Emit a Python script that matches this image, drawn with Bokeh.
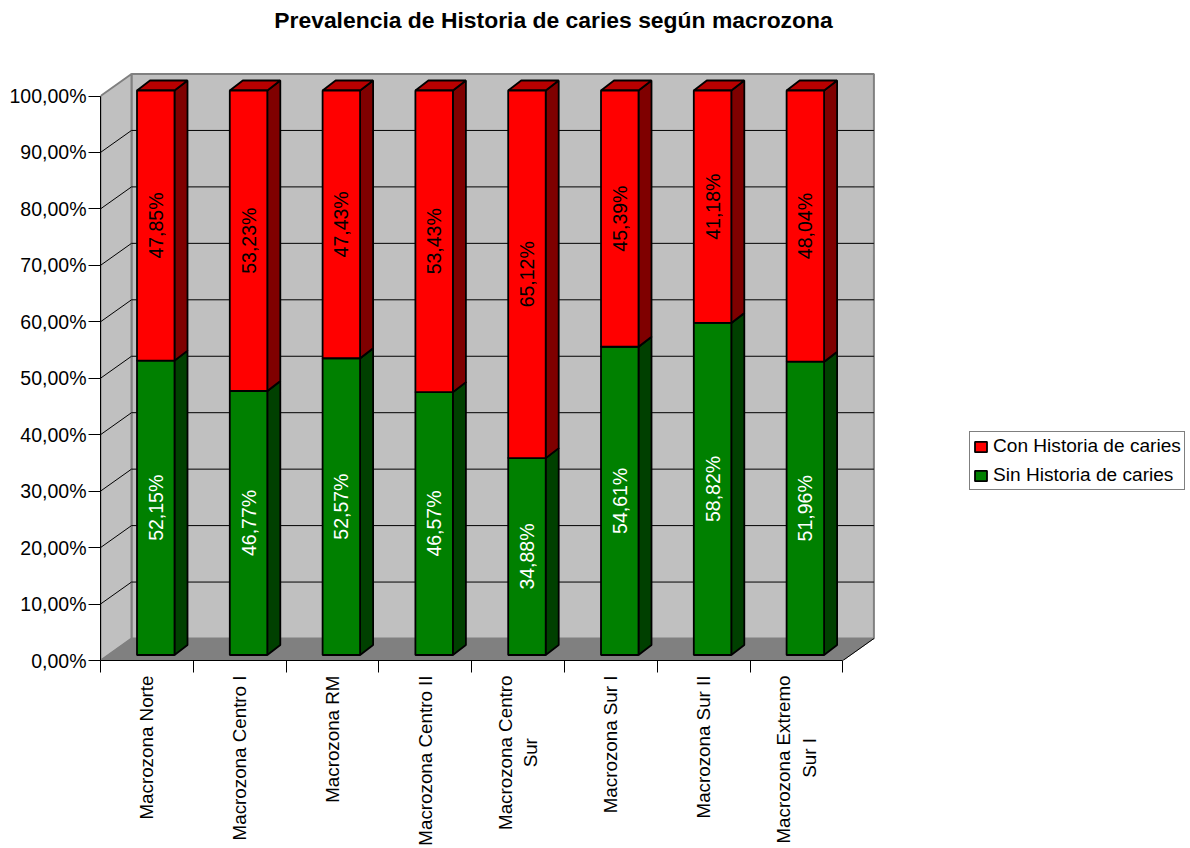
import math
from bokeh.plotting import figure
from bokeh.embed import file_html
from bokeh.resources import INLINE
from bokeh.models import FixedTicker, Range1d, Legend, LegendItem, ColumnDataSource
from bokeh.core.properties import value

NB = "\u00a0" * 12  # keeps the short second line centred under the first
categories = ["Macrozona Norte", "Macrozona Centro I", "Macrozona RM", "Macrozona Centro II",
              "Macrozona Centro\nSur" + NB, "Macrozona Sur I", "Macrozona Sur II",
              "Macrozona Extremo\nSur I" + NB]
sin_hist = [52.15, 46.77, 52.57, 46.57, 34.88, 54.61, 58.82, 51.96]
con_hist = [47.85, 53.23, 47.43, 53.43, 65.12, 45.39, 41.18, 48.04]
y_ticks = [0, 10, 20, 30, 40, 50, 60, 70, 80, 90, 100]
title = "Prevalencia de Historia de caries según macrozona"
FONT = "Liberation Sans"
FS = "19.5px"

# pixel scale of the chart
PX_X, PX_Y = 92.8, 5.645
FW, FH = 1088, 660
n = len(categories)
ux, uy = 1 / PX_X, 1 / PX_Y
WALL_DX, WALL_DY = 31 * ux, 22 * uy       # depth of the walls
BAR_SHIFT, BAR_LIFT = 8.85 * ux, 5.5 * uy  # position of bar front plane
BAR_W = 37.5 * ux
DEPTH_X, DEPTH_Y = 13 * ux, 10 * uy       # depth of bars

p = figure(width=1188, height=846, output_backend="svg", toolbar_location=None,
           x_range=Range1d(0, FW * ux), y_range=Range1d(0, FH * uy),
           frame_width=FW, frame_height=FH,
           min_border_left=100, min_border_top=0, min_border_right=0, min_border_bottom=186)
p.outline_line_color = None
p.xgrid.visible = False
p.ygrid.visible = False
p.background_fill_color = "white"

# chart title, placed above the walls and centred over the whole chart area
p.text([453 * ux], [641 * uy], text=[title], text_align="center", text_baseline="middle",
       text_font=value(FONT), text_font_size="22.9px", text_font_style="bold", text_color="black")

# walls
WALL = "#C0C0C0"
EDGE = "#808080"
top = max(y_ticks)
p.patch([WALL_DX, n + WALL_DX, n + WALL_DX, WALL_DX],
        [WALL_DY, WALL_DY, top + WALL_DY, top + WALL_DY],
        fill_color=WALL, line_color=EDGE, line_width=2)
p.patch([0, WALL_DX, WALL_DX, 0], [0, WALL_DY, top + WALL_DY, top],
        fill_color=WALL, line_color=EDGE, line_width=2)
p.patch([0, n, n + WALL_DX, WALL_DX], [0, 0, WALL_DY, WALL_DY],
        fill_color="#808080", line_color=EDGE, line_width=1)
# grid on walls
grid = y_ticks[1:-1]
p.multi_line([[WALL_DX, n + WALL_DX] for t in grid], [[t + WALL_DY, t + WALL_DY] for t in grid],
             line_color="black", line_width=1)
p.multi_line([[0, WALL_DX] for t in grid], [[t, t + WALL_DY] for t in grid],
             line_color="black", line_width=1)
p.line([n, n + WALL_DX], [0, WALL_DY], line_color="black", line_width=1)


def stack(bottoms, tops, front, roof, side):
    xc = [i + 0.5 + BAR_SHIFT for i in range(n)]
    l = [x - BAR_W / 2 for x in xc]
    r = [x + BAR_W / 2 for x in xc]
    b = [v + BAR_LIFT for v in bottoms]
    t = [v + BAR_LIFT for v in tops]
    p.patches([[ri, ri + DEPTH_X, ri + DEPTH_X, ri] for ri in r],
              [[bi, bi + DEPTH_Y, ti + DEPTH_Y, ti] for bi, ti in zip(b, t)],
              fill_color=side, line_color="black", line_width=1.8)
    p.patches([[li, li + DEPTH_X, ri + DEPTH_X, ri] for li, ri in zip(l, r)],
              [[ti, ti + DEPTH_Y, ti + DEPTH_Y, ti] for ti in t],
              fill_color=roof, line_color="black", line_width=1.8)
    return p.vbar(x=xc, width=BAR_W, bottom=b, top=t, fill_color=front,
                  line_color="black", line_width=1.8)


zeros = [0] * n
tops_con = [a + b for a, b in zip(sin_hist, con_hist)]
g = stack(zeros, sin_hist, "#008000", "#006000", "#004000")
r = stack(sin_hist, tops_con, "#FF0000", "#B80000", "#7F0000")


def labels(vals, bottoms, color):
    src = ColumnDataSource(dict(
        x=[i + 0.5 + BAR_SHIFT for i in range(n)],
        y=[b + v / 2 + BAR_LIFT for b, v in zip(bottoms, vals)],
        t=[f"{v:.2f}%".replace(".", ",") for v in vals]))
    p.text("x", "y", text="t", source=src, angle=90, angle_units="deg", text_align="center",
           text_baseline="middle", text_font=value(FONT), text_font_size=FS, text_color=color)


labels(sin_hist, zeros, "white")
labels(con_hist, sin_hist, "black")

# axes
ya = p.yaxis[0]
ya.ticker = FixedTicker(ticks=y_ticks)
ya.bounds = (0, 100)
ya.major_label_overrides = {t: f"{t},00%" for t in y_ticks}
ya.major_tick_out = 12
ya.major_tick_in = 0
ya.minor_tick_out = 0
ya.minor_tick_in = 0
ya.major_label_standoff = 2
ya.major_label_text_font = FONT
ya.major_label_text_font_size = FS
ya.major_label_text_color = "black"
ya.axis_line_color = "black"
ya.major_tick_line_color = "black"

xa = p.xaxis[0]
centres = [i + 0.5 for i in range(n)]
xa.ticker = FixedTicker(ticks=centres, minor_ticks=list(range(n + 1)))
xa.bounds = (0, n)
xa.major_label_overrides = {c: t for c, t in zip(centres, categories)}
xa.major_label_orientation = math.pi / 2
xa.major_tick_out = 0
xa.major_tick_in = 0
xa.minor_tick_out = 12
xa.minor_tick_in = 0
xa.major_label_standoff = 3
xa.major_label_text_font = FONT
xa.major_label_text_font_size = "18.8px"
xa.major_label_text_color = "black"
xa.axis_line_color = "black"
xa.minor_tick_line_color = "black"

legend = Legend(items=[LegendItem(label="Con Historia de caries", renderers=[r]),
                       LegendItem(label="Sin Historia de caries", renderers=[g])],
                location=(869, 170), orientation="vertical",
                label_text_font=FONT, label_text_font_size="19.1px", label_text_color="black",
                glyph_width=15, glyph_height=13, label_standoff=5, label_width=186,
                padding=3, spacing=7, margin=0,
                border_line_color="black", border_line_width=1, background_fill_alpha=1)
p.add_layout(legend)

open("out.html", "w").write(file_html(p, INLINE))
